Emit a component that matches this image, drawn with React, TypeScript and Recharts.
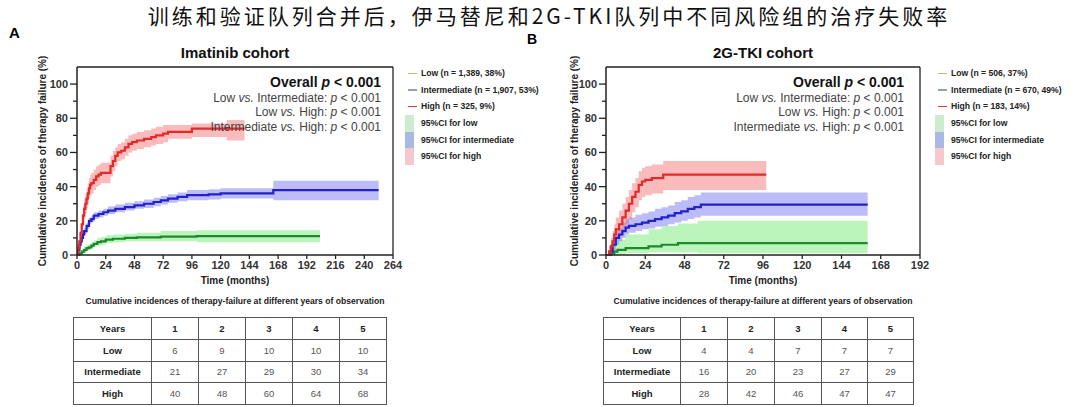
import { Area, ComposedChart, Line, ReferenceLine, XAxis, YAxis } from 'recharts';

// [months, estimate %, lower 95%CI, upper 95%CI]
type Pt = [number, number, number, number];

const imatinibLow: Pt[] = [
  [0, 0, 0, 0], [2, 1, 0, 2.5], [4, 2, 0.5, 3.5], [6, 3, 1.5, 5], [8, 4, 2.5, 6],
  [10, 4.5, 3, 6.5], [12, 5.5, 4, 7.5], [14, 6.5, 5, 8.5], [17, 7.5, 5.5, 10],
  [20, 8, 6, 10.5], [24, 9, 7, 11.5], [30, 9.5, 7.5, 12], [40, 10, 8, 12.5],
  [50, 10.3, 8, 13], [70, 10.8, 8, 14], [100, 11, 7.5, 14.5], [203, 11, 7.5, 14.5],
];
const imatinibMid: Pt[] = [
  [0, 0, 0, 0], [1, 3, 1, 5], [2, 6, 4, 8], [3, 8, 6, 10], [4, 10, 8, 12], [5, 12, 10, 14],
  [6, 14, 12, 16], [8, 17, 15, 19], [10, 20, 18, 22], [12, 21, 19, 23], [14, 23, 21, 25],
  [18, 24, 22, 26], [22, 25, 23, 27], [26, 26, 24, 28.5], [32, 27, 25, 29.5],
  [40, 28, 26, 30.5], [48, 29, 27, 31.5], [56, 30, 27.5, 32.5], [64, 31, 28.5, 33.5],
  [70, 32, 29.5, 34.5], [76, 33, 30.5, 35.5], [84, 34, 31.5, 36.5], [92, 35, 32, 38],
  [110, 35.5, 32.5, 38.5], [120, 36, 33, 39], [164, 38, 32, 43.5], [252, 38, 32, 43.5],
];
const imatinibHigh: Pt[] = [
  [0, 0, 0, 0], [1, 4, 1, 8], [2, 8, 4, 13], [3, 13, 8, 18], [4, 18, 12, 24], [5, 23, 17, 29],
  [6, 27, 21, 33], [7, 30, 24, 36], [8, 33, 27, 39], [9, 36, 30, 42], [10, 39, 33, 45],
  [11, 41, 35, 47], [12, 42, 36, 48], [14, 44, 38, 50], [16, 46, 40, 52], [18, 47, 41, 53],
  [20, 48, 42, 54], [26, 48, 42, 54], [28, 52, 46, 58], [30, 55, 49, 61], [32, 58, 52, 63],
  [34, 60, 55, 65], [37, 61, 56, 66], [40, 63, 58, 68], [43, 65, 60, 70], [46, 66, 61, 71],
  [50, 67, 62, 72], [56, 68, 63, 73], [62, 69, 64, 74], [66, 70, 65, 75], [72, 71, 66, 76],
  [76, 72, 68, 76], [96, 74, 69, 77], [125, 74, 67, 79], [140, 74, 67, 79],
];

const tkiLow: Pt[] = [
  [0, 0, 0, 0], [3, 1, 0, 4], [5, 2, 0, 7], [7, 3, 0.5, 9], [12, 4, 1, 12],
  [26, 5, 1.5, 15], [34, 6, 1.5, 17], [44, 7, 1.5, 18.5], [56, 7, 1, 20], [160, 7, 1, 20],
];
const tkiMid: Pt[] = [
  [0, 0, 0, 0], [2, 2, 0, 5], [4, 6, 2, 10], [6, 10, 6, 14], [8, 12, 8, 16], [10, 14, 10, 19],
  [12, 16, 12, 21], [14, 17, 13, 22], [18, 18, 14, 23.5], [22, 19, 15, 24.5],
  [26, 20, 15.5, 25.5], [30, 21, 16.5, 27], [34, 22, 17, 28], [38, 23, 18, 29],
  [42, 24.5, 19, 31], [46, 25.5, 20, 32], [50, 27, 21, 34], [54, 28, 22, 35],
  [58, 29.5, 23, 36.5], [160, 29.5, 23, 36.5],
];
const tkiHigh: Pt[] = [
  [0, 0, 0, 0], [2, 2, 0, 6], [3, 5, 1, 10], [4, 8, 3, 14], [5, 12, 6, 18], [6, 15, 9, 22],
  [8, 18, 11, 26], [10, 22, 14, 30], [12, 26, 18, 34], [14, 30, 21, 38], [16, 34, 25, 42],
  [18, 37, 28, 45], [20, 41, 32, 49], [22, 43, 34, 51], [24, 44, 35, 52], [28, 45, 36, 53],
  [35, 47, 38, 55], [98, 47, 38, 55],
];

const imatinibTicks = [0, 24, 48, 72, 96, 120, 144, 168, 192, 216, 240, 264];
const tkiTicks = [0, 24, 48, 72, 96, 120, 144, 168, 192];
const yTicks = [0, 10, 20, 30, 40, 50, 60, 70, 80, 90, 100, 110];

const imatinibLegend = ['Low (n = 1,389, 38%)', 'Intermediate (n = 1,907, 53%)', 'High (n = 325, 9%)'];
const tkiLegend = ['Low (n = 506, 37%)', 'Intermediate (n = 670, 49%)', 'High (n = 183, 14%)'];
const ciLabels = ['95%CI for low', '95%CI for intermediate', '95%CI for high'];
const comparisons = [['Low', 'Intermediate'], ['Low', 'High'], ['Intermediate', 'High']];

const yearCols = ['1', '2', '3', '4', '5'];
const groups = ['Low', 'Intermediate', 'High'];
const imatinibTable = [[6, 9, 10, 10, 10], [21, 27, 29, 30, 34], [40, 48, 60, 64, 68]];
const tkiTable = [[4, 4, 7, 7, 7], [16, 20, 23, 27, 29], [28, 42, 46, 47, 47]];

const lineColors = ['#1c8a2c', '#2222c8', '#e22a2a'];
const bandColors = ['#5fe85f', '#6060ee', '#f05c5c'];
const legendLine = ['#b4c07c', '#8f9fbf', '#c4424e'];
const legendPatch = ['#cdeccd', '#aab8e6', '#f6c8ce'];

const FONT = 'Arial, "Liberation Sans", Helvetica, sans-serif';

const toRows = (pts: Pt[]) => pts.map(([t, v, lo, hi]) => ({ t, v, band: [lo, hi] }));

function YTick(props: any) {
  const { x, y, payload } = props;
  const v = payload.value;
  if (v > 100) return null;
  const major = v % 20 === 0;
  return (
    <g>
      <line x1={x - (major ? 7 : 4)} x2={x} y1={y} y2={y} stroke="#222" strokeWidth={1.3} />
      {major && (
        <text x={x - 9} y={y} dy={4} textAnchor="end" fontSize={11} fontWeight="bold" fill="#333">
          {v}
        </text>
      )}
    </g>
  );
}

function KMChart({ series, xMax, ticks, left, yAxisW, rightM }: any) {
  return (
    <div style={{ position: 'absolute', left, top: 0 }}>
      <ComposedChart width={540} height={300} margin={{ top: 67, right: rightM, bottom: 15, left: 0 }}>
        <XAxis
          type="number"
          dataKey="t"
          domain={[0, xMax]}
          ticks={ticks}
          interval={0}
          height={30}
          tickSize={4}
          tickMargin={2}
          allowDataOverflow
          axisLine={{ stroke: '#222', strokeWidth: 1.5 }}
          tickLine={{ stroke: '#222', strokeWidth: 1.3 }}
          tick={{ fontSize: 11, fontWeight: 'bold', fill: '#333' }}
        />
        <YAxis
          type="number"
          domain={[0, 110]}
          ticks={yTicks}
          interval={0}
          width={yAxisW}
          tickSize={0}
          tickMargin={0}
          tickLine={false}
          axisLine={{ stroke: '#222', strokeWidth: 1.5 }}
          tick={<YTick />}
        />
        <ReferenceLine y={110} stroke="#222" strokeWidth={1.3} />
        <ReferenceLine x={xMax} stroke="#222" strokeWidth={1.3} />
        {series.map((s: Pt[], i: number) => (
          <Area
            key={`band${i}`}
            data={toRows(s)}
            dataKey="band"
            type="stepAfter"
            stroke="none"
            fill={bandColors[i]}
            fillOpacity={0.42}
            isAnimationActive={false}
          />
        ))}
        {series.map((s: Pt[], i: number) => (
          <Line
            key={`line${i}`}
            data={toRows(s)}
            dataKey="v"
            type="stepAfter"
            stroke={lineColors[i]}
            strokeWidth={2.2}
            dot={false}
            activeDot={false}
            isAnimationActive={false}
          />
        ))}
      </ComposedChart>
    </div>
  );
}

function PValues({ right }: { right: number }) {
  return (
    <div style={{ position: 'absolute', right, top: 74, textAlign: 'right', whiteSpace: 'nowrap' }}>
      <div style={{ fontSize: 14, fontWeight: 'bold', color: '#111', lineHeight: '17px' }}>
        Overall <i>p</i> &lt; 0.001
      </div>
      {comparisons.map(([a, b]) => (
        <div key={a + b} style={{ fontSize: 12, color: '#444', lineHeight: '14.3px' }}>
          {a} <i>vs.</i> {b}: <i>p</i> &lt; 0.001
        </div>
      ))}
    </div>
  );
}

function Legend({ left, labels }: { left: number; labels: string[] }) {
  const rows = [...labels, ...ciLabels];
  return (
    <div style={{ position: 'absolute', left, top: 65 }}>
      {rows.map((r, i) => (
        <div key={r} style={{ position: 'relative', height: 16.7, fontSize: 8.6, fontWeight: 'bold', color: '#222', whiteSpace: 'nowrap' }}>
          {i < 3 ? (
            <div style={{ position: 'absolute', left: 3, top: 7.5, width: 9, height: 1.5, background: legendLine[i] }} />
          ) : (
            <div style={{ position: 'absolute', left: 0, top: 0, width: 9, height: 16.7, background: legendPatch[i - 3] }} />
          )}
          <span style={{ position: 'absolute', left: 16, top: 3, lineHeight: '10px' }}>{r}</span>
        </div>
      ))}
    </div>
  );
}

function YearTable({ left, widths, values }: { left: number; widths: number[]; values: number[][] }) {
  const cell = (bold: boolean, w?: number): any => ({
    border: '1px solid #555',
    width: w,
    height: 20.8,
    padding: 0,
    textAlign: 'center',
    fontSize: 9.5,
    fontWeight: bold ? 'bold' : 'normal',
    color: bold ? '#222' : '#555',
  });
  return (
    <table style={{ position: 'absolute', left, top: 317, borderCollapse: 'collapse', tableLayout: 'fixed', fontFamily: FONT }}>
      <tbody>
        <tr>
          <td style={cell(true, widths[0])}>Years</td>
          {yearCols.map((y, i) => (
            <td key={y} style={cell(true, widths[i + 1])}>{y}</td>
          ))}
        </tr>
        {groups.map((g, gi) => (
          <tr key={g}>
            <td style={cell(true)}>{g}</td>
            {values[gi].map((v, i) => (
              <td key={i} style={cell(false)}>{v}</td>
            ))}
          </tr>
        ))}
      </tbody>
    </table>
  );
}

function AxisTitles({ yLabelX, plotL, plotR }: { yLabelX: number; plotL: number; plotR: number }) {
  const cx = (plotL + plotR) / 2;
  return (
    <>
      <div
        style={{
          position: 'absolute', left: yLabelX - 150, top: 161 - 7, width: 300, textAlign: 'center',
          transform: 'rotate(-90deg)', fontSize: 10, fontWeight: 'bold', color: '#222', lineHeight: '14px', whiteSpace: 'nowrap',
        }}
      >
        Cumulative incidences of therapy failure (%)
      </div>
      <div style={{ position: 'absolute', left: cx - 100, width: 200, top: 275, textAlign: 'center', fontSize: 10, fontWeight: 'bold', color: '#222' }}>
        Time (months)
      </div>
      <div style={{ position: 'absolute', left: cx - 200, width: 400, top: 296, textAlign: 'center', fontSize: 8.6, fontWeight: 'bold', color: '#222', whiteSpace: 'nowrap' }}>
        Cumulative incidences of therapy-failure at different years of observation
      </div>
    </>
  );
}

export default function App() {
  return (
    <div style={{ position: 'absolute', left: 0, top: 0, width: 1080, height: 407, background: '#fff', fontFamily: FONT, overflow: 'hidden' }}>
      <div
        style={{
          position: 'absolute', left: 0, width: 1080, boxSizing: 'border-box', paddingLeft: 18, top: 5,
          textAlign: 'center', fontFamily: '"Noto Sans CJK SC", sans-serif', fontSize: 21, letterSpacing: 3,
          color: '#111', lineHeight: '21px', whiteSpace: 'nowrap',
        }}
      >
        训练和验证队列合并后，伊马替尼和2G-TKI队列中不同风险组的治疗失败率
      </div>
      <div style={{ position: 'absolute', left: 9, top: 25, fontSize: 15, fontWeight: 'bold', lineHeight: '15px' }}>A</div>
      <div style={{ position: 'absolute', left: 527, top: 32, fontSize: 14, fontWeight: 'bold', lineHeight: '14px' }}>B</div>

      <KMChart series={[imatinibLow, imatinibMid, imatinibHigh]} xMax={264} ticks={imatinibTicks} left={0} yAxisW={77} rightM={147} />
      <KMChart series={[tkiLow, tkiMid, tkiHigh]} xMax={192} ticks={tkiTicks} left={530} yAxisW={76} rightM={150} />

      <div style={{ position: 'absolute', left: 135, width: 200, top: 44, textAlign: 'center', fontSize: 15, fontWeight: 'bold', color: '#111' }}>
        Imatinib cohort
      </div>
      <div style={{ position: 'absolute', left: 663, width: 200, top: 44, textAlign: 'center', fontSize: 15, fontWeight: 'bold', color: '#111' }}>
        2G-TKI cohort
      </div>

      <PValues right={1080 - 381} />
      <PValues right={1080 - 904} />
      <Legend left={405} labels={imatinibLegend} />
      <Legend left={935} labels={tkiLegend} />

      <AxisTitles yLabelX={43} plotL={77} plotR={393} />
      <AxisTitles yLabelX={575} plotL={606} plotR={920} />

      <YearTable left={73} widths={[77, 46, 46, 46, 46, 46]} values={imatinibTable} />
      <YearTable left={603} widths={[76, 46, 46, 46, 45, 45]} values={tkiTable} />
    </div>
  );
}
